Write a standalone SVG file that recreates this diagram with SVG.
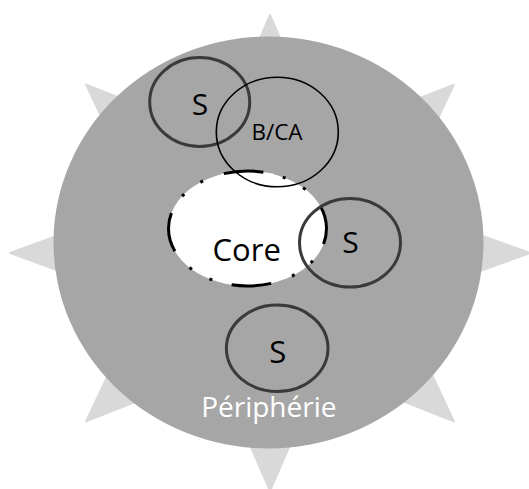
<svg xmlns="http://www.w3.org/2000/svg" width="529" height="489" viewBox="0 0 529 489">
  <style>
    .lbl { font-family: "Open Sans", "Liberation Sans", sans-serif; text-anchor: middle; fill: #000000; }
    .s-ring { fill: none; stroke: #3a3a3a; stroke-width: 3; }
    .bca-ring { fill: none; stroke: #000000; stroke-width: 1.6; }
  </style>
  <rect width="529" height="489" fill="#ffffff"/>
  <g id="star">
    <polygon fill="#d9d9d9" stroke="#d9d9d9" stroke-width="2" stroke-linejoin="round"
      points="270,15 322.7,136.5 453.8,84.7 397.3,204.7 530,253 397.3,301.3 453.8,421.3 322.7,369.5 270,491 217.3,369.5 86.2,421.3 142.7,301.3 10,253 142.7,204.7 86.2,84.7 217.3,136.5"/>
  </g>
  <g id="peripherie">
    <ellipse cx="268.5" cy="242.5" rx="215" ry="206" fill="#a6a6a6"/>
  </g>
  <g id="core">
    <ellipse cx="247.5" cy="228.5" rx="79" ry="57.5" fill="#ffffff" stroke="#000000" stroke-width="3" pathLength="432" stroke-dasharray="40 20 3 20 3 22" stroke-dashoffset="24"/>
    <text class="lbl" x="246.7" y="260.7" font-size="31">Core</text>
  </g>
  <g id="s-top">
    <ellipse class="s-ring" cx="199.7" cy="102" rx="50" ry="44.5"/>
    <text class="lbl" x="200" y="114.5" font-size="30">S</text>
  </g>
  <g id="bca">
    <ellipse class="bca-ring" cx="277.3" cy="132" rx="61" ry="54.8"/>
    <text class="lbl" x="277" y="139.5" font-size="22.5">B/CA</text>
  </g>
  <g id="s-right">
    <ellipse class="s-ring" cx="350" cy="242.8" rx="50.5" ry="44.3"/>
    <text class="lbl" x="350.5" y="253.3" font-size="30">S</text>
  </g>
  <g id="s-bottom">
    <ellipse class="s-ring" cx="277.2" cy="348.3" rx="50.8" ry="43.2"/>
    <text class="lbl" x="277.7" y="362.7" font-size="31">S</text>
  </g>
  <g id="peripherie-label">
    <text class="lbl" x="268.8" y="417.3" font-size="28" fill="#ffffff" style="fill:#ffffff">Périphérie</text>
  </g>
  <g id="connectors"></g>
</svg>
